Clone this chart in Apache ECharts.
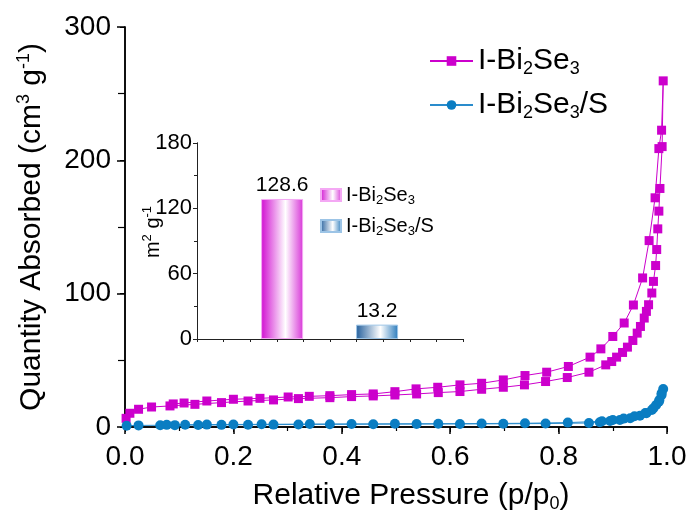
<!DOCTYPE html>
<html>
<head>
<meta charset="utf-8">
<script src="https://cdn.jsdelivr.net/npm/echarts@6/dist/echarts.min.js"></script>
<style>
  html, body { margin: 0; padding: 0; background: #fff; }
  #chart { width: 689px; height: 513px; }
</style>
</head>
<body>
<div id="chart"></div>
<script>
// I-Bi2Se3 isotherm: adsorption (going up) then desorption (coming back)
const pIBS = [0.002, 0.009, 0.025, 0.049, 0.083, 0.129, 0.178, 0.227, 0.274, 0.320, 0.378, 0.418, 0.458, 0.498,
  0.538, 0.578, 0.618, 0.658, 0.698, 0.737, 0.776, 0.816, 0.856, 0.887, 0.898, 0.907, 0.918, 0.927, 0.937,
  0.945, 0.951, 0.958, 0.962, 0.966, 0.972, 0.975, 0.979, 0.981, 0.983, 0.985, 0.987, 0.991, 0.993,
  0.990, 0.985, 0.978, 0.967, 0.955, 0.938, 0.921, 0.900, 0.878, 0.858, 0.818, 0.778, 0.738, 0.698, 0.658,
  0.618, 0.577, 0.537, 0.498, 0.458, 0.418, 0.378, 0.340, 0.301, 0.249, 0.200, 0.151, 0.109, 0.089];
const vIBS = [6.5, 10.3, 13.3, 15.0, 15.8, 17.0, 18.3, 19.5, 20.3, 21.3, 22.0, 22.8, 23.3, 24.0,
  24.8, 25.8, 26.6, 28.3, 29.8, 31.6, 34.1, 37.1, 41.1, 46.6, 49.1, 52.4, 55.9, 59.9, 64.9,
  70.4, 75.4, 81.7, 86.7, 91.7, 100.5, 109.2, 121.1, 133.1, 148.6, 161.9, 178.9, 210.3, 259.6,
  222.6, 208.8, 171.9, 139.8, 111.8, 91.5, 78.0, 67.9, 58.6, 52.4, 45.4, 41.1, 38.6, 35.3, 32.8,
  31.6, 29.8, 28.6, 26.5, 24.8, 24.3, 23.5, 23.0, 22.5, 21.5, 20.8, 19.5, 18.0, 17.3];

// I-Bi2Se3/S isotherm
const pIBSS = [0.003, 0.025, 0.065, 0.092, 0.135, 0.178, 0.227, 0.274, 0.320, 0.378, 0.458, 0.538, 0.618,
  0.698, 0.776, 0.856, 0.876, 0.895, 0.913, 0.932, 0.950, 0.962, 0.972, 0.980, 0.986, 0.990, 0.993,
  0.990, 0.985, 0.975, 0.960, 0.940, 0.920, 0.900, 0.880, 0.817, 0.738, 0.658, 0.578, 0.498, 0.418,
  0.341, 0.252, 0.200, 0.151, 0.111, 0.077];
const vIBSS = [1.0, 1.2, 1.3, 1.4, 1.5, 1.6, 1.7, 1.8, 1.9, 2.0, 2.1, 2.2, 2.3,
  2.4, 2.6, 3.0, 3.5, 4.5, 5.3, 6.5, 8.5, 10.3, 12.8, 16.5, 20.3, 25.3, 28.5,
  24.0, 19.0, 14.0, 10.5, 8.0, 6.3, 5.2, 4.3, 3.3, 2.8, 2.6, 2.5, 2.4, 2.3,
  2.2, 2.0, 1.9, 1.8, 1.7, 1.6];

// inset: BET surface area
const barNames = ['I-Bi2Se3', 'I-Bi2Se3/S'];
const barPos = [0.32, 0.677];
const barArea = [128.6, 13.2];

const FONT = 'Liberation Sans, Arial, sans-serif';
const MAGENTA = '#cc00cc';
const BLUE = '#0a7dc2';

const zip = (a, b) => a.map((v, i) => [v, b[i]]);

function richSet(size, sub, shift) {
  return {
    t: { fontSize: size, fontFamily: FONT, color: '#000' },
    sub: { fontSize: sub, fontFamily: FONT, color: '#000', padding: [shift, 0, 0, 0] },
    sup: { fontSize: sub, fontFamily: FONT, color: '#000', padding: [0, 0, shift, 0] }
  };
}
const richTitle = richSet(30, 18, 16);
const richLegend = richSet(30, 18, 16);
const richSmall = richSet(20, 13, 11);

function chem(name) {
  return name === 'I-Bi2Se3'
    ? '{t|I-Bi}{sub|2}{t|Se}{sub|3}'
    : '{t|I-Bi}{sub|2}{t|Se}{sub|3}{t|/S}';
}

function barGrad(c1, c2) {
  return new echarts.graphic.LinearGradient(0, 0, 1, 0, [
    { offset: 0, color: c1 },
    { offset: 0.58, color: '#ffffff' },
    { offset: 1, color: c2 }
  ]);
}

const frameMain = { show: true, lineStyle: { color: '#000', width: 1.5 } };
const frameInset = { show: true, lineStyle: { color: '#222', width: 1 } };

const chart = echarts.init(document.getElementById('chart'));

const option = {
  animation: false,
  backgroundColor: '#fff',
  textStyle: { fontFamily: FONT },
  grid: [
    { left: 125, top: 27, width: 542, height: 400, outerBoundsMode: 'none', containLabel: false },
    { left: 197, top: 143, width: 266, height: 196, outerBoundsMode: 'none', containLabel: false }
  ],
  legend: [
    {
      data: ['I-Bi2Se3', 'I-Bi2Se3/S'],
      orient: 'vertical',
      left: 429, top: 46, padding: 0,
      itemWidth: 43, itemHeight: 12, itemGap: 12,
      formatter: chem,
      textStyle: { rich: richLegend }
    },
    {
      data: ['bar1', 'bar2'],
      orient: 'vertical',
      left: 320, top: 185, padding: 0,
      icon: 'rect',
      itemWidth: 20, itemHeight: 12, itemGap: 9,
      formatter: (n) => chem(n === 'bar1' ? barNames[0] : barNames[1]),
      textStyle: { rich: richSmall }
    }
  ],
  xAxis: [
    {
      gridIndex: 0, type: 'value', min: 0, max: 1, interval: 0.2,
      axisLine: frameMain,
      axisTick: { show: true, length: 7, lineStyle: { width: 1.5, color: '#000' } },
      minorTick: { show: true, splitNumber: 2, length: 4, lineStyle: { color: '#000', width: 1.2 } },
      axisLabel: { fontSize: 28, color: '#000', margin: 16, formatter: (v) => v.toFixed(1) },
      splitLine: { show: false },
      name: '{t|Relative Pressure (p/p}{sub|0}{t|)}',
      nameLocation: 'middle', nameGap: 52,
      nameTextStyle: { rich: richTitle, padding: [0, 0, 0, 30] }
    },
    {
      gridIndex: 0, type: 'value', min: 0, max: 1, interval: 0.2, position: 'top',
      axisLine: frameMain,
      axisTick: { show: true, inside: true, length: 5, lineStyle: { width: 1, color: '#000' } },
      minorTick: { show: true, splitNumber: 2, length: 3, lineStyle: { color: '#000' } },
      axisLabel: { show: false }, splitLine: { show: false }
    },
    {
      gridIndex: 1, type: 'value', min: 0, max: 1, interval: 0.1,
      axisLine: frameInset,
      axisTick: { show: true, length: 3, lineStyle: { color: '#222' } },
      axisLabel: { show: false }, splitLine: { show: false }
    },
    {
      gridIndex: 1, type: 'value', min: 0, max: 1, interval: 0.1, position: 'top',
      axisLine: frameInset,
      axisTick: { show: true, inside: true, length: 3, lineStyle: { color: '#222' } },
      axisLabel: { show: false }, splitLine: { show: false }
    }
  ],
  yAxis: [
    {
      gridIndex: 0, type: 'value', min: 0, max: 300, interval: 100,
      axisLine: frameMain,
      axisTick: { show: true, length: 8, lineStyle: { width: 1.5, color: '#000' } },
      minorTick: { show: true, splitNumber: 2, length: 7, lineStyle: { color: '#000', width: 1.2 } },
      axisLabel: { fontSize: 28, color: '#000', margin: 14 },
      splitLine: { show: false },
      name: '{t|Quantity Absorbed (cm}{sup|3}{t| g}{sup|-1}{t|)}',
      nameLocation: 'middle', nameGap: 76,
      nameTextStyle: { rich: richTitle }
    },
    {
      gridIndex: 0, type: 'value', min: 0, max: 300, interval: 100, position: 'right',
      axisLine: frameMain,
      axisTick: { show: true, inside: true, length: 5, lineStyle: { width: 1, color: '#000' } },
      minorTick: { show: true, splitNumber: 2, length: 3, lineStyle: { color: '#000' } },
      axisLabel: { show: false }, splitLine: { show: false }
    },
    {
      gridIndex: 1, type: 'value', min: 0, max: 180, interval: 60,
      axisLine: frameInset,
      axisTick: { show: true, length: 4, lineStyle: { color: '#222' } },
      minorTick: { show: true, splitNumber: 2, length: 3, lineStyle: { color: '#222' } },
      axisLabel: { fontSize: 22, color: '#000', margin: 5 },
      splitLine: { show: false },
      name: '{t|m}{sup|2}{t| g}{sup|-1}',
      nameLocation: 'middle', nameGap: 32, nameMoveOverlap: false,
      nameTextStyle: { rich: richSmall, padding: [0, 0, 0, 18] }
    },
    {
      gridIndex: 1, type: 'value', min: 0, max: 180, interval: 60, position: 'right',
      axisLine: frameInset,
      axisTick: { show: true, inside: true, length: 3, lineStyle: { color: '#222' } },
      minorTick: { show: true, splitNumber: 2, length: 2, lineStyle: { color: '#222' } },
      axisLabel: { show: false }, splitLine: { show: false }
    }
  ],
  series: [
    {
      name: 'I-Bi2Se3', type: 'line', xAxisIndex: 0, yAxisIndex: 0,
      data: zip(pIBS, vIBS),
      symbol: 'rect', symbolSize: 9, showAllSymbol: true,
      itemStyle: { color: MAGENTA },
      lineStyle: { color: MAGENTA, width: 1 }
    },
    {
      name: 'I-Bi2Se3/S', type: 'line', xAxisIndex: 0, yAxisIndex: 0,
      data: zip(pIBSS, vIBSS),
      symbol: 'circle', symbolSize: 10, showAllSymbol: true,
      itemStyle: { color: BLUE },
      lineStyle: { color: '#2a8ccc', width: 1 }
    },
    {
      name: 'bar1', type: 'bar', xAxisIndex: 2, yAxisIndex: 2,
      data: [[barPos[0], barArea[0]]],
      barWidth: 42,
      itemStyle: { color: barGrad('#d10fd1', '#d838d8'), borderColor: '#f4a8f4', borderWidth: 1 },
      label: { show: true, position: 'top', fontSize: 21, color: '#000', distance: 3,
        formatter: (p) => p.value[1].toFixed(1) }
    },
    {
      name: 'bar2', type: 'bar', xAxisIndex: 2, yAxisIndex: 2,
      data: [[barPos[1], barArea[1]]],
      barWidth: 42, barGap: '-100%',
      itemStyle: { color: barGrad('#245f9c', '#2d7cbc'), borderColor: '#9cc4e6', borderWidth: 1 },
      label: { show: true, position: 'top', fontSize: 21, color: '#000', distance: 3,
        formatter: (p) => p.value[1].toFixed(1) }
    }
  ]
};

chart.setOption(option);
window.addEventListener('resize', () => chart.resize());
</script>
</body>
</html>
